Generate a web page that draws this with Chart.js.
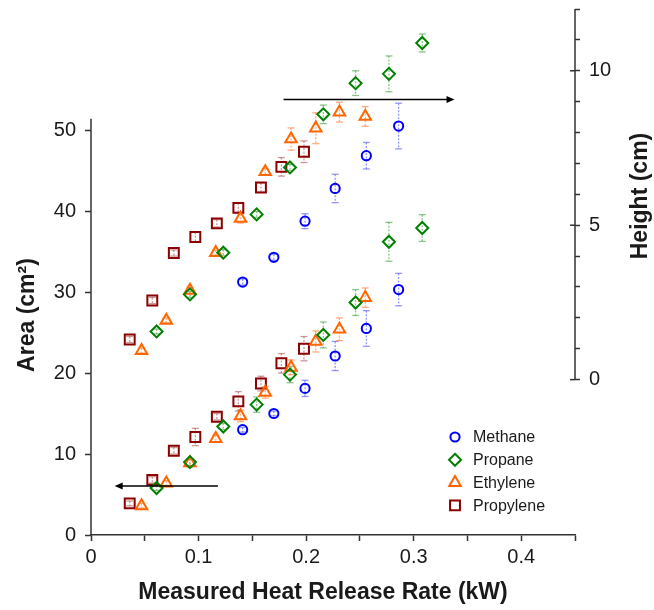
<!DOCTYPE html>
<html>
<head>
<meta charset="utf-8">
<script src="https://cdn.jsdelivr.net/npm/chart.js@4"></script>
<style>
  html, body { margin: 0; padding: 0; background: #fff; }
</style>
</head>
<body>
<canvas id="myChart" width="654" height="610"></canvas>
<script>
// measured heat release rate (kW)
var methane_x = [0.141, 0.170, 0.199, 0.227, 0.256, 0.286];
var propane_x = [0.061, 0.092, 0.123, 0.154, 0.185, 0.216, 0.246, 0.277, 0.308];
var ethylene_x = [0.047, 0.070, 0.092, 0.116, 0.139, 0.162, 0.186, 0.209, 0.231, 0.255];
var propylene_x = [0.036, 0.057, 0.077, 0.097, 0.117, 0.137, 0.158, 0.177, 0.198];

// flame area (cm2), left axis
var methane_area = [13.0, 15.0, 18.1, 22.1, 25.5, 30.3];
var methane_area_err = [0.3, 0.3, 1.0, 1.8, 2.2, 2.0];
var propane_area = [5.8, 9.0, 13.4, 16.1, 19.8, 24.7, 28.7, 36.2, 37.9];
var propane_area_err = [0.3, 0.4, 0.4, 0.95, 1.0, 1.6, 1.6, 2.4, 1.65];
var ethylene_area = [3.6, 6.4, 8.9, 11.9, 14.7, 17.6, 20.7, 23.9, 25.4, 29.3];
var ethylene_area_err = [0.3, 0.3, 0.5, 0.4, 0.7, 0.7, 0.9, 1.3, 1.4, 1.2];
var propylene_area = [3.9, 6.8, 10.4, 12.1, 14.6, 16.5, 18.7, 21.2, 23.0];
var propylene_area_err = [0.3, 0.4, 0.4, 1.07, 0.4, 1.2, 0.9, 1.2, 1.5];

// flame height (cm), right axis
var methane_height = [3.16, 3.96, 5.13, 6.19, 7.25, 8.21];
var methane_height_err = [0.1, 0.1, 0.24, 0.46, 0.43, 0.74];
var propane_height = [1.56, 2.76, 4.11, 5.35, 6.87, 8.59, 9.60, 9.90, 10.90];
var propane_height_err = [0.08, 0.1, 0.1, 0.1, 0.1, 0.3, 0.4, 0.58, 0.29];
var ethylene_height = [0.94, 1.92, 2.89, 4.11, 5.22, 6.73, 7.79, 8.14, 8.66, 8.52];
var ethylene_height_err = [0.08, 0.08, 0.1, 0.08, 0.15, 0.1, 0.36, 0.5, 0.32, 0.32];
var propylene_height = [1.30, 2.56, 4.10, 4.62, 5.06, 5.56, 6.22, 6.89, 7.38];
var propylene_height_err = [0.1, 0.1, 0.1, 0.15, 0.12, 0.15, 0.15, 0.3, 0.35];

var gases = ["Methane", "Propane", "Ethylene", "Propylene"];

// tick labels
var x_labels = [0, 0.1, 0.2, 0.3, 0.4];
var area_labels = [0, 10, 20, 30, 40, 50];
var height_labels = [0, 5, 10];

// arrows pointing to the axis each band belongs to
var arrow_height_x = [0.179, 0.338];
var arrow_height_y = 9.07;
var arrow_area_x = [0.118, 0.022];
var arrow_area_y = 6.05;

// styles
var colors = ["#0000ff", "#008000", "#ff6600", "#8b0000"];
var barColors = ["rgba(80,80,255,0.6)", "rgba(50,150,50,0.55)", "rgba(255,130,60,0.65)", "rgba(160,70,70,0.55)"];
var shapes = ["circle", "rectRot", "triangle", "rect"];
var sizes = [4.6, 6, 6.6, 7];
var axisColor = "#333";
var font = '"Liberation Sans", Arial, sans-serif';

Chart.defaults.font.family = font;
Chart.defaults.color = "#1a1a1a";

var series = [
  [methane_x, methane_area, methane_area_err, methane_height, methane_height_err],
  [propane_x, propane_area, propane_area_err, propane_height, propane_height_err],
  [ethylene_x, ethylene_area, ethylene_area_err, ethylene_height, ethylene_height_err],
  [propylene_x, propylene_area, propylene_area_err, propylene_height, propylene_height_err],
];

function makeSet(i, xs, ys, errs, axis) {
  return {
    label: gases[i],
    data: xs.map(function (x, j) { return { x: x, y: ys[j] }; }),
    errs: errs,
    gas: i,
    yAxisID: axis,
    showLine: false,
    pointStyle: shapes[i],
    pointRadius: sizes[i],
    pointBorderWidth: 2,
    borderColor: colors[i],
    backgroundColor: "rgba(0,0,0,0)",
  };
}

var datasets = [];
for (let i = 0; i < series.length; i++) {
  let s = series[i];
  datasets.push(makeSet(i, s[0], s[1], s[2], "y"));
  datasets.push(makeSet(i, s[0], s[3], s[4], "y2"));
}

function line(ctx, x1, y1, x2, y2) {
  ctx.beginPath();
  ctx.moveTo(x1, y1);
  ctx.lineTo(x2, y2);
  ctx.stroke();
}

function arrow(ctx, x1, y1, x2, y2) {
  var a = Math.atan2(y2 - y1, x2 - x1);
  ctx.save();
  ctx.strokeStyle = "#000";
  ctx.fillStyle = "#000";
  ctx.lineWidth = 1.5;
  line(ctx, x1, y1, x2 - 6 * Math.cos(a), y2 - 6 * Math.sin(a));
  ctx.beginPath();
  ctx.moveTo(x2, y2);
  ctx.lineTo(x2 - 8 * Math.cos(a) + 3.5 * Math.sin(a), y2 - 8 * Math.sin(a) - 3.5 * Math.cos(a));
  ctx.lineTo(x2 - 8 * Math.cos(a) - 3.5 * Math.sin(a), y2 - 8 * Math.sin(a) + 3.5 * Math.cos(a));
  ctx.closePath();
  ctx.fill();
  ctx.restore();
}

function marker(ctx, i, x, y) {
  var r = sizes[i];
  ctx.save();
  ctx.strokeStyle = colors[i];
  ctx.lineWidth = 2;
  ctx.beginPath();
  if (shapes[i] == "circle") {
    ctx.arc(x, y, r, 0, Math.PI * 2);
  } else if (shapes[i] == "rectRot") {
    ctx.moveTo(x, y - r); ctx.lineTo(x + r, y); ctx.lineTo(x, y + r); ctx.lineTo(x - r, y);
    ctx.closePath();
  } else if (shapes[i] == "triangle") {
    ctx.moveTo(x, y - r);
    ctx.lineTo(x + r * Math.sin(2 * Math.PI / 3), y - r * Math.cos(2 * Math.PI / 3));
    ctx.lineTo(x + r * Math.sin(4 * Math.PI / 3), y - r * Math.cos(4 * Math.PI / 3));
    ctx.closePath();
  } else {
    var h = r * Math.SQRT1_2;
    ctx.rect(x - h, y - h, 2 * h, 2 * h);
  }
  ctx.stroke();
  ctx.restore();
}

var extras = {
  id: "extras",
  beforeDatasetsDraw: function (chart) {
    var ctx = chart.ctx;
    chart.data.datasets.forEach(function (ds, i) {
      var meta = chart.getDatasetMeta(i);
      var sc = chart.scales[ds.yAxisID];
      ctx.save();
      ctx.strokeStyle = barColors[ds.gas];
      ctx.lineWidth = 1.3;
      meta.data.forEach(function (pt, j) {
        var v = ds.data[j].y, e = ds.errs[j];
        var top = sc.getPixelForValue(v + e), bot = sc.getPixelForValue(v - e);
        ctx.setLineDash([2, 1.5]);
        line(ctx, pt.x, top, pt.x, bot);
        ctx.setLineDash([]);
        line(ctx, pt.x - 3.5, top, pt.x + 3.5, top);
        line(ctx, pt.x - 3.5, bot, pt.x + 3.5, bot);
      });
      ctx.restore();
    });
  },
  afterDraw: function (chart) {
    var ctx = chart.ctx;
    var ca = chart.chartArea;
    var xs = chart.scales.x, ya = chart.scales.y, yh = chart.scales.y2;

    // axis lines
    ctx.save();
    ctx.strokeStyle = axisColor;
    ctx.lineWidth = 1.5;
    line(ctx, ca.left, ya.getPixelForValue(0) + 0.75, ca.left, ya.getPixelForValue(51.4));
    line(ctx, ca.right, yh.getPixelForValue(0), ca.right, yh.getPixelForValue(12));
    height_labels.forEach(function (v) {
      var y = yh.getPixelForValue(v);
      line(ctx, ca.right - 5, y, ca.right, y);
    });
    ctx.restore();

    // arrows
    arrow(ctx, xs.getPixelForValue(arrow_height_x[0]), yh.getPixelForValue(arrow_height_y),
      xs.getPixelForValue(arrow_height_x[1]), yh.getPixelForValue(arrow_height_y));
    arrow(ctx, xs.getPixelForValue(arrow_area_x[0]), ya.getPixelForValue(arrow_area_y),
      xs.getPixelForValue(arrow_area_x[1]), ya.getPixelForValue(arrow_area_y));

    // axis titles
    ctx.save();
    ctx.fillStyle = "#1a1a1a";
    ctx.font = "bold 23px " + font;
    ctx.textAlign = "center";
    ctx.textBaseline = "middle";
    ctx.fillText("Measured Heat Release Rate (kW)", 323, 593);
    ctx.save();
    ctx.translate(28, 315);
    ctx.rotate(-Math.PI / 2);
    ctx.fillText("Area (cm\u00b2)", 0, 0);
    ctx.restore();
    ctx.save();
    ctx.translate(641, 196);
    ctx.rotate(-Math.PI / 2);
    ctx.fillText("Height (cm)", 0, 0);
    ctx.restore();
    ctx.restore();

    // legend
    ctx.save();
    ctx.font = "16px " + font;
    ctx.fillStyle = "#1a1a1a";
    ctx.textBaseline = "middle";
    gases.forEach(function (g, i) {
      var y = 437 + i * 22.8;
      marker(ctx, i, 455, y);
      ctx.fillText(g, 473, y + 1);
    });
    ctx.restore();
  },
};

new Chart(document.getElementById("myChart"), {
  type: "scatter",
  data: { datasets: datasets },
  options: {
    responsive: false,
    animation: false,
    layout: { padding: { top: 9, left: 0, right: 0, bottom: 0 } },
    plugins: { legend: { display: false }, tooltip: { enabled: false } },
    scales: {
      x: {
        type: "linear",
        min: 0,
        max: 0.45,
        afterFit: function (s) { s.height = 75; s.paddingLeft = 0; s.paddingRight = 0; },
        ticks: {
          stepSize: 0.05,
          autoSkip: false,
          maxRotation: 0,
          padding: 4,
          font: { size: 20 },
          callback: function (v) {
            var k = Math.round(v * 20);
            if (k % 2 != 0) return "";
            var val = k / 20;
            if (x_labels.indexOf(val) < 0) return "";
            return val == 0 ? "0" : val.toFixed(1);
          },
        },
        grid: { drawOnChartArea: false, tickLength: 6, tickWidth: 1.5, tickColor: axisColor },
        border: { display: true, color: axisColor, width: 1.5 },
      },
      y: {
        type: "linear",
        position: "left",
        min: 0,
        max: 64.94,
        afterFit: function (s) { s.width = 91; s.paddingTop = 0; s.paddingBottom = 0; },
        ticks: {
          stepSize: 10,
          autoSkip: false,
          padding: 9,
          font: { size: 20 },
          callback: function (v) { return area_labels.indexOf(v) >= 0 ? String(v) : ""; },
        },
        grid: {
          drawOnChartArea: false,
          tickLength: 6,
          tickWidth: 1.5,
          tickColor: function (c) { return c.tick && c.tick.value <= 50 ? axisColor : "rgba(0,0,0,0)"; },
        },
        border: { display: false },
      },
      y2: {
        type: "linear",
        position: "right",
        min: -5.03,
        max: 12,
        afterFit: function (s) { s.width = 79; s.paddingTop = 0; s.paddingBottom = 0; },
        ticks: {
          stepSize: 1,
          autoSkip: false,
          padding: 9,
          font: { size: 20 },
          callback: function (v) { return height_labels.indexOf(v) >= 0 ? String(v) : ""; },
        },
        grid: {
          drawOnChartArea: false,
          tickLength: 5,
          tickWidth: 1.5,
          tickColor: function (c) { return c.tick && c.tick.value >= 0 ? axisColor : "rgba(0,0,0,0)"; },
        },
        border: { display: false },
      },
    },
  },
  plugins: [extras],
});
</script>
</body>
</html>
